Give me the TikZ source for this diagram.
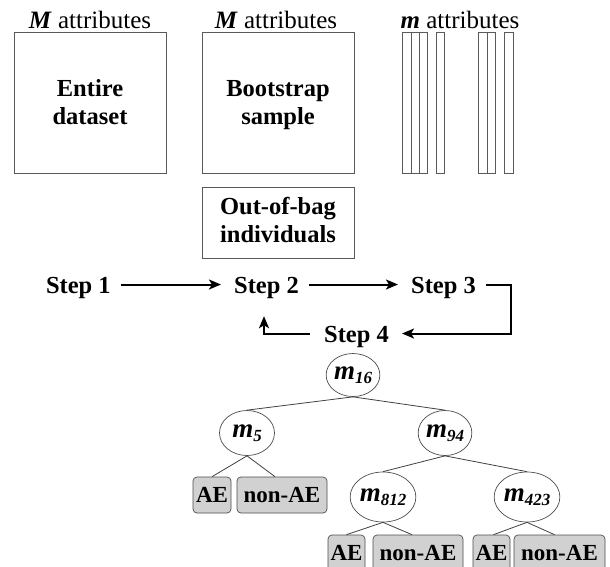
\documentclass[tikz,border=0pt]{standalone}
\usepackage{fontspec}
\setmainfont{Liberation Serif}
\usetikzlibrary{arrows.meta,shapes.geometric}
\newcommand\mlab[1]{{\bfseries\itshape\fontsize{27}{27}\selectfont m\raisebox{-4pt}{\fontsize{17}{17}\selectfont #1}}}
\begin{document}
\begin{tikzpicture}[x=1pt,y=-1pt,
  box/.style={draw=black!65,line width=0.7pt},
  hdr/.style={font=\fontsize{25}{28}\selectfont,anchor=base,inner sep=0pt},
  lbl/.style={font=\fontsize{24.5}{28}\selectfont\bfseries,align=center,inner sep=0pt},
  steptext/.style={font=\fontsize{24.5}{28}\selectfont\bfseries,inner xsep=10pt,inner ysep=0pt,text height=17pt,text depth=0pt},
  arr/.style={line width=2pt,-{Stealth[length=12pt,width=10pt,inset=3pt]},shorten >=3pt},
  ell/.style={draw=black!70,line width=0.7pt,ellipse,inner sep=0pt},
  leaf/.style={draw=black!70,line width=0.7pt,fill=black!18,rounded corners=4pt,inner sep=0pt,minimum height=36pt,text height=15.5pt,text depth=0pt,font=\fontsize{23}{26}\selectfont\bfseries},
  edge/.style={draw=black!75,line width=0.8pt}]
\clip (0,0) rectangle (610,566);
% headers
\node[hdr] (h1) at (90,28) {\textbf{\textit{M}} attributes};
\node[hdr] (h2) at (276,28) {\textbf{\textit{M}} attributes};
\node[hdr] (h3) at (460,28) {\textbf{\textit{m}} attributes};
% boxes
\node[box,minimum width=152pt,minimum height=141pt] (ent) at (90,102.5) {};
\node[lbl] (entt) at (90,102.5) {Entire\\dataset};
\node[box,minimum width=152pt,minimum height=141pt] (boot) at (278,102.5) {};
\node[lbl] (boott) at (278,105.2) {Bootstrap\\sample};
\node[box,minimum width=152pt,minimum height=71pt] (oob) at (278,222.5) {};
\node[lbl] (oobt) at (278,220.4) {Out-of-bag\\individuals};
% bars
\foreach \a/\b in {402/411,411/419,419/427,436/444,478/487,487/495,504/513}
  \draw[box] (\a,32) rectangle (\b,173);
% steps
\node[steptext] (s1) at (78.4,284.5) {Step 1};
\node[steptext] (s2) at (266.5,284.5) {Step 2};
\node[steptext] (s3) at (443.5,284.5) {Step 3};
\node[steptext] (s4) at (356.5,333.5) {Step 4};
\draw[arr] (s1.east) -- (s2.west);
\draw[arr] (s2.east) -- (s3.west);
\draw[arr] (s3.east) -- ++(25,0) |- (s4.east);
\draw[arr,shorten <=4pt] (s4.west) -| ([xshift=-2.5pt,yshift=-20pt]s2.south);
% tree
\node[ell,minimum width=50pt,minimum height=43pt] (m16) at (353,375) {\mlab{16}};
\node[ell,minimum width=55pt,minimum height=45pt] (m5) at (247,433) {\mlab{5}};
\node[ell,minimum width=50pt,minimum height=45pt] (m94) at (445,433) {\mlab{94}};
\node[ell,minimum width=60pt,minimum height=50pt] (m812) at (383,497) {\mlab{812}};
\node[ell,minimum width=54pt,minimum height=50pt] (m423) at (527,497) {\mlab{423}};
\node[leaf,minimum width=38pt] (l1) at (212,495) {AE};
\node[leaf,minimum width=90pt] (l2) at (282,495) {non-AE};
\node[leaf,minimum width=37pt] (l3) at (346.5,553) {AE};
\node[leaf,minimum width=90pt] (l4) at (418,553) {non-AE};
\node[leaf,minimum width=37pt] (l5) at (491.5,553) {AE};
\node[leaf,minimum width=91pt] (l6) at (559.5,553) {non-AE};
\draw[edge] (m16.south) -- (m5.north);
\draw[edge] (m16.south) -- (m94.north);
\draw[edge] (m5.south) -- (l1.north);
\draw[edge] (m5.south) -- ([xshift=-7pt]l2.north);
\draw[edge] (m94.south) -- (m812.north);
\draw[edge] (m94.south) -- (m423.north);
\draw[edge] (m812.south) -- (l3.north);
\draw[edge] (m812.south) -- ([xshift=-6pt]l4.north);
\draw[edge] (m423.south) -- ([xshift=2pt]l5.north);
\draw[edge] (m423.south) -- ([xshift=-5pt]l6.north);
\end{tikzpicture}
\end{document}
